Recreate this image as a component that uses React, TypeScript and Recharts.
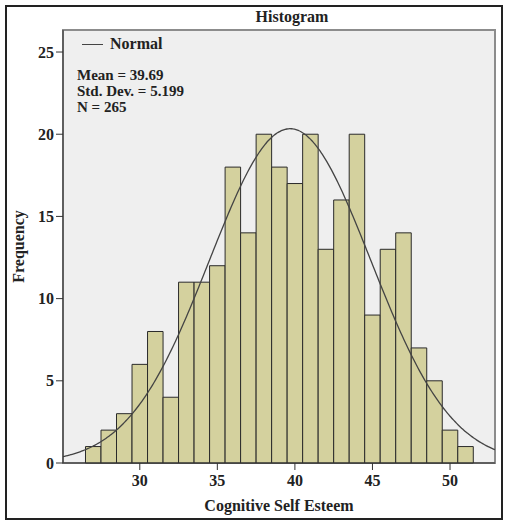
import React from 'react';
import { ComposedChart, Line, XAxis, YAxis, ReferenceArea, Label } from 'recharts';

// histogram bins (centre of each 1-point bin) and their counts
const BIN_CENTERS = [27, 28, 29, 30, 31, 32, 33, 34, 35, 36, 37, 38, 39, 40, 41, 42, 43, 44, 45, 46, 47, 48, 49, 50, 51];
const FREQUENCIES = [1, 2, 3, 6, 8, 4, 11, 11, 12, 18, 14, 20, 18, 17, 20, 13, 16, 20, 9, 13, 14, 7, 5, 2, 1];
const BIN_WIDTH = 1;

// fitted normal curve parameters
const MEAN = 39.69;
const STD_DEV = 5.199;
const N = 265;

const X_TICKS = [30, 35, 40, 45, 50];
const Y_TICKS = [0, 5, 10, 15, 20, 25];
const X_DOMAIN: [number, number] = [25.05, 52.9];
const Y_DOMAIN: [number, number] = [0, 26.34];

const FONT = '"Liberation Serif", "Times New Roman", serif';
const BAR_FILL = '#d4d19e';
const PLOT_BG = '#efefef';

// expected count per bin under the fitted normal
const normalCount = (x: number) =>
  (N * BIN_WIDTH * Math.exp(-0.5 * ((x - MEAN) / STD_DEV) ** 2)) / (STD_DEV * Math.sqrt(2 * Math.PI));

const curveData: { x: number; normal: number }[] = [];
for (let i = 0; i <= 280; i++) {
  const x = X_DOMAIN[0] + ((X_DOMAIN[1] - X_DOMAIN[0]) * i) / 280;
  curveData.push({ x, normal: normalCount(x) });
}

const textStyle: React.CSSProperties = {
  position: 'absolute',
  fontFamily: FONT,
  fontWeight: 'bold',
  fontSize: 16,
  color: '#222',
  lineHeight: '18px',
  whiteSpace: 'nowrap',
};

const statStyle: React.CSSProperties = { ...textStyle, fontSize: 15, lineHeight: '16px' };

const tickStyle = { fill: '#222', fontFamily: FONT, fontWeight: 'bold', fontSize: 16 };
const labelStyle = { fill: '#222', fontFamily: FONT, fontWeight: 'bold', fontSize: 16 };

const App: React.FC = () => {
  return (
    <div style={{ position: 'absolute', left: 0, top: 0, width: 506, height: 523, background: '#fff' }}>
      <div
        style={{
          position: 'absolute',
          left: 5,
          top: 5,
          width: 498,
          height: 515,
          boxSizing: 'border-box',
          border: '2px solid #222',
        }}
      />
      <ComposedChart
        width={506}
        height={523}
        data={curveData}
        margin={{ top: 30, right: 11, left: 13, bottom: 20 }}
        style={{ position: 'absolute', left: 0, top: 0 }}
      >
        <ReferenceArea
          x1={X_DOMAIN[0]}
          x2={X_DOMAIN[1]}
          y1={Y_DOMAIN[0]}
          y2={Y_DOMAIN[1]}
          fill={PLOT_BG}
          fillOpacity={1}
          stroke="#8c8c8c"
          strokeWidth={2}
        />
        {BIN_CENTERS.map((c, i) => (
          <ReferenceArea
            key={`bin-${c}`}
            x1={c - BIN_WIDTH / 2}
            x2={c + BIN_WIDTH / 2}
            y1={0}
            y2={FREQUENCIES[i]}
            fill={BAR_FILL}
            fillOpacity={1}
            stroke="#2a2a2a"
            strokeWidth={1}
          />
        ))}
        <XAxis
          dataKey="x"
          type="number"
          domain={X_DOMAIN}
          ticks={X_TICKS}
          allowDataOverflow
          height={40}
          tickSize={7}
          tickMargin={5}
          stroke="#333"
          tick={tickStyle}
        >
          <Label value="Cognitive Self Esteem" position="bottom" offset={-3} style={labelStyle} />
        </XAxis>
        <YAxis
          type="number"
          domain={Y_DOMAIN}
          ticks={Y_TICKS}
          allowDataOverflow
          width={50}
          tickSize={7}
          tickMargin={2}
          stroke="#333"
          tick={tickStyle}
        >
          <Label
            value="Frequency"
            angle={-90}
            position="insideLeft"
            offset={5}
            style={{ ...labelStyle, textAnchor: 'middle' }}
          />
        </YAxis>
        <Line
          dataKey="normal"
          name="Normal"
          type="monotone"
          dot={false}
          stroke="#444"
          strokeWidth={1.3}
          isAnimationActive={false}
        />
      </ComposedChart>

      <div style={{ ...textStyle, left: 292, top: 8, transform: 'translateX(-50%)' }}>Histogram</div>

      <div style={{ position: 'absolute', left: 82, top: 44, width: 21, height: 0, borderTop: '1.3px solid #444' }} />
      <div style={{ ...textStyle, left: 110, top: 35 }}>Normal</div>
      <div style={{ ...statStyle, left: 77, top: 67 }}>
        <div>Mean = {MEAN.toFixed(2)}</div>
        <div>Std. Dev. = {STD_DEV.toFixed(3)}</div>
        <div>N = {N}</div>
      </div>
    </div>
  );
};

export default App;
